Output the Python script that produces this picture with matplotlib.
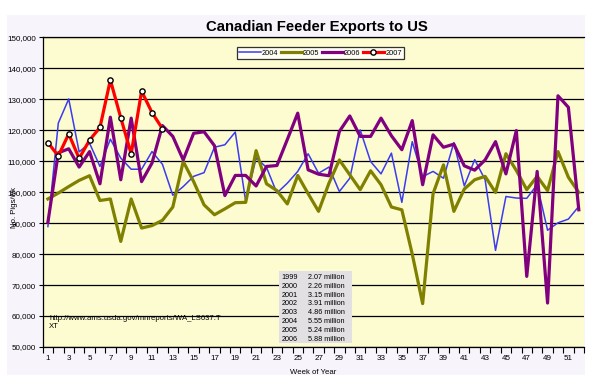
import matplotlib
matplotlib.use("Agg")
import matplotlib.pyplot as plt
from matplotlib.patches import Rectangle
from matplotlib.ticker import FuncFormatter, MultipleLocator
import numpy as np

plt.rcParams['font.family'] = ['Liberation Sans', 'DejaVu Sans']

weeks = list(range(1, 53))

exports_2004 = [88.9, 122.3, 130.1, 113.0, 115.8, 108.3, 117.1, 111.0, 107.4, 107.4,
                113.1, 109.0, 99.0, 101.8, 105.1, 106.3, 114.5, 115.3, 119.4, 97.0,
                111.0, 108.0, 99.7, 102.9, 106.7, 112.4, 106.1, 108.1, 100.2, 104.5,
                120.1, 109.9, 105.9, 112.6, 96.7, 116.3, 105.0, 106.7, 104.5, 116.0,
                102.0, 110.5, 104.0, 81.2, 98.6, 98.1, 98.0, 102.4, 87.7, 90.1,
                91.3, 95.4]
exports_2005 = [97.8, 99.7, 101.8, 103.8, 105.3, 97.3, 97.8, 84.1, 97.8, 88.4,
                89.2, 90.9, 95.2, 109.9, 103.4, 95.9, 92.7, 94.6, 96.6, 96.7,
                113.4, 102.7, 100.5, 96.2, 105.4, 99.5, 93.8, 102.9, 110.4, 105.6,
                100.8, 106.9, 102.4, 95.2, 94.3, 80.0, 64.0, 99.5, 108.8, 93.8,
                101.0, 104.0, 105.1, 99.9, 112.4, 107.0, 100.8, 105.1, 100.5, 113.1,
                104.8, 99.9]
exports_2006 = [90.3, 112.7, 114.0, 108.1, 113.1, 102.7, 124.2, 104.0, 123.9, 103.4,
                109.4, 121.5, 118.0, 110.4, 119.0, 119.5, 115.0, 98.9, 105.4, 105.4,
                102.0, 108.3, 108.6, 117.0, 125.5, 107.2, 105.8, 105.3, 119.6, 124.6,
                118.0, 118.0, 123.9, 118.2, 113.7, 123.1, 102.4, 118.5, 114.5, 115.5,
                108.5, 107.1, 110.4, 116.3, 105.9, 119.9, 72.8, 106.7, 64.2, 131.1,
                127.4, 94.3]
exports_2007 = [116.0, 111.7, 118.8, 110.9, 116.8, 120.9, 136.2, 124.0, 112.4, 132.6,
                125.7, 120.5]

series_labels = ['2004', '2005', '2006', '2007']
table_years = ['1999', '2000', '2001', '2002', '2003', '2004', '2005', '2006']
table_values = ['2.07 million', '2.26 million', '3.15 million', '3.91 million',
                '4.86 million', '5.55 million', '5.24 million', '5.88 million']

W, H = 600, 380
fig = plt.figure(figsize=(6, 3.8), dpi=100, facecolor='white')

def fx(x):
    return x / W

def fy(y):
    return 1 - y / H

# chart area background
fig.patches.append(Rectangle((fx(7), fy(375)), fx(585) - fx(7), fy(15) - fy(375),
                             transform=fig.transFigure, facecolor='#F7F4FB',
                             edgecolor='none', zorder=-10))

ax = fig.add_axes([fx(42.7), fy(347), fx(584) - fx(42.7), fy(37.3) - fy(347)])
ax.set_zorder(1)
ax.set_facecolor('#FDFBD0')

scale = 1000
ax.plot(weeks, np.array(exports_2004) * scale, color='#3B3BF0', lw=1.1, label=series_labels[0], zorder=3)
ax.plot(weeks, np.array(exports_2005) * scale, color='#808000', lw=2.3, label=series_labels[1], zorder=3)
ax.plot(weeks, np.array(exports_2006) * scale, color='#800080', lw=2.3, label=series_labels[2], zorder=3)
ax.plot(weeks[:len(exports_2007)], np.array(exports_2007) * scale, color='#FF0000', lw=2.3,
        marker='o', markersize=3.8, markerfacecolor='white', markeredgecolor='black',
        markeredgewidth=1.0, label=series_labels[3], zorder=4)

ax.set_xlim(0.5, 52.5)
ax.set_ylim(50000, 150000)
ax.yaxis.set_major_locator(MultipleLocator(10000))
ax.yaxis.set_major_formatter(FuncFormatter(lambda v, p: f"{int(v):,}"))
ax.yaxis.grid(True, color='black', lw=0.9)
ax.set_axisbelow(True)

ax.set_xticks(weeks[::2])
ax.set_xticklabels([str(w) for w in weeks[::2]])
ax.set_xticks(np.arange(0.5, 53, 1), minor=True)
ax.tick_params(axis='x', which='major', length=0, labelsize=5.8, pad=6)
ax.tick_params(axis='x', which='minor', length=4, width=0.8, direction='out')
ax.tick_params(axis='y', which='major', length=3, width=0.8, labelsize=5.8, pad=2)

ax.spines['right'].set_visible(False)
ax.spines['top'].set_linewidth(0.9)
ax.spines['left'].set_linewidth(0.9)
ax.spines['bottom'].set_linewidth(0.9)

fig.text(fx(313), fy(372), 'Week of Year', fontsize=5.6, ha='center', va='center')
fig.text(fx(14), fy(207), 'No. Pigs/wk', fontsize=5.6, ha='center', va='center', rotation=90)

fig.text(fx(317), fy(27.5), 'Canadian Feeder Exports to US', fontsize=10.7,
         fontweight='bold', ha='center', va='center')

leg = ax.legend(loc='center', bbox_to_anchor=(fx(320.5), fy(53)), bbox_transform=fig.transFigure,
                ncol=4, fontsize=5.3, handlelength=2.9, handletextpad=0.15, columnspacing=0.3,
                borderpad=0.3, frameon=True, fancybox=False, borderaxespad=0, numpoints=1)
leg.get_frame().set_edgecolor('black')
leg.get_frame().set_linewidth(0.9)
leg.get_frame().set_facecolor('white')

fig.text(fx(49), fy(322.7), 'http://www.ams.usda.gov/mnreports/WA_LS637.T\nXT',
         fontsize=5.6, ha='left', va='center', linespacing=1.1, zorder=6)

# table box
fig.patches.append(Rectangle((fx(279), fy(343)), fx(352) - fx(279), fy(271) - fy(343),
                             transform=fig.transFigure, facecolor='#E2E0E2',
                             edgecolor='none', zorder=5))
for i, (yr, val) in enumerate(zip(table_years, table_values)):
    yy = 277.3 + i * 8.86
    fig.text(fx(281.7), fy(yy), yr, fontsize=5.2, ha='left', va='center', zorder=6)
    fig.text(fx(307.7), fy(yy), val, fontsize=5.2, ha='left', va='center', zorder=6)

fig.savefig('out.png', dpi=100)
